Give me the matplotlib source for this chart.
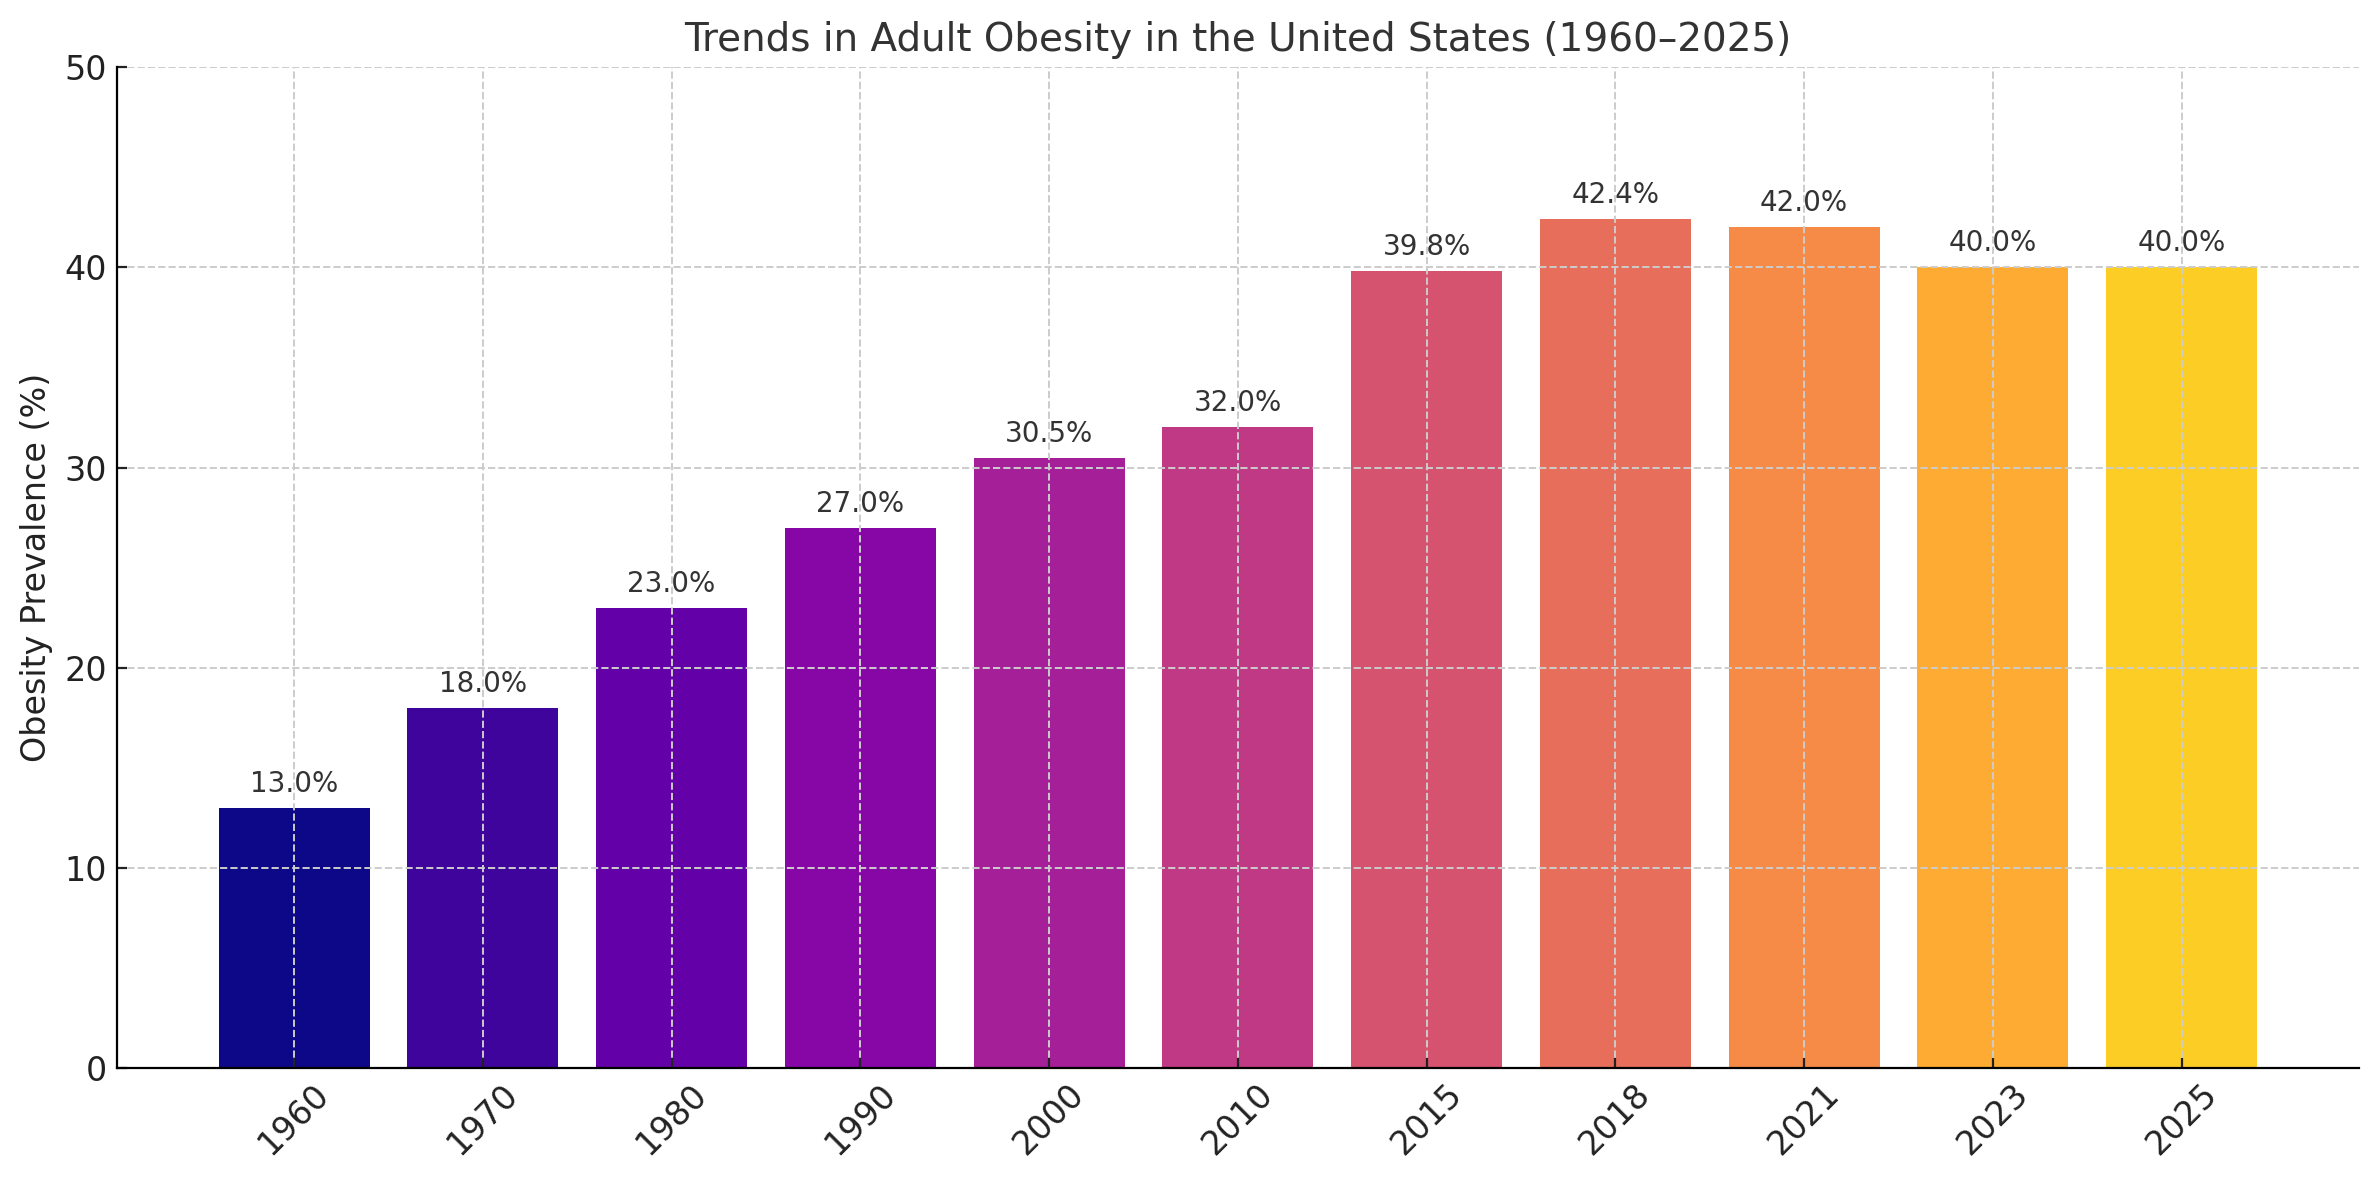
import matplotlib
matplotlib.use("Agg")
import matplotlib.pyplot as plt
import numpy as np

years = ['1960', '1970', '1980', '1990', '2000', '2010', '2015', '2018', '2021', '2023', '2025']
prevalence = [13.0, 18.0, 23.0, 27.0, 30.5, 32.0, 39.8, 42.4, 42.0, 40.0, 40.0]

plt.rcParams['font.family'] = 'DejaVu Sans'

colors = plt.cm.plasma(np.linspace(0, 0.9, len(years)))

fig, ax = plt.subplots(figsize=(11.895, 5.9), dpi=200)
fig.subplots_adjust(left=0.049, right=0.9916, top=0.943, bottom=0.095)

positions = np.arange(len(years))
bars = ax.bar(positions, prevalence, color=colors, width=0.8)

for pos, val in zip(positions, prevalence):
    ax.text(pos, val + 0.5, f'{val:.1f}%', ha='center', va='bottom',
            fontsize=10, color='#333333')

ax.set_xticks(positions)
ax.set_xticklabels(years, rotation=45, fontsize=12)
ax.set_ylim(0, 50)
ax.set_yticks([0, 10, 20, 30, 40, 50])
ax.tick_params(axis='y', labelsize=12)
ax.tick_params(direction='in', colors='#222222')
ax.set_ylabel('Obesity Prevalence (%)', fontsize=12, color='#222222')
ax.set_title('Trends in Adult Obesity in the United States (1960\u20132025)',
             fontsize=14, color='#333333')
ax.grid(True, linestyle='--', color='#cccccc', linewidth=0.7)
ax.spines[['top', 'right']].set_visible(False)

plt.savefig('out.png', dpi=200)
